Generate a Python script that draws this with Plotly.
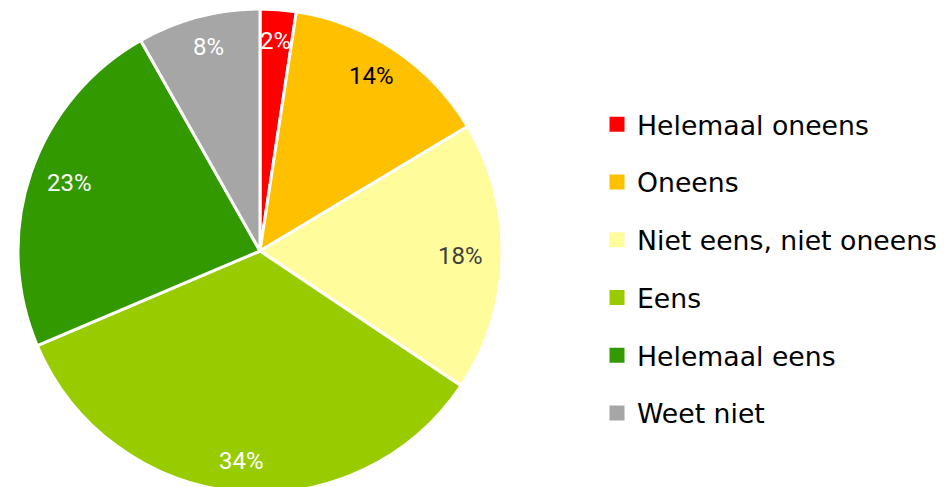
import math
import plotly.graph_objects as go

categories = ["Helemaal oneens", "Oneens", "Niet eens, niet oneens", "Eens", "Helemaal eens", "Weet niet"]
values = [2.4, 14.0, 18.0, 34.2, 23.2, 8.2]
colors = ["#FF0000", "#FFC000", "#FFFC9C", "#99CC00", "#339900", "#A6A6A6"]
label_colors = ["#FFFFFF", "#000000", "#404040", "#FFFFFF", "#FFFFFF", "#FFFFFF"]

W, H = 944, 496
cx, cy, R = 260, 251, 242  # pie centre / radius in px

fig = go.Figure()
fig.add_trace(go.Pie(
    labels=categories, values=values, sort=False, direction="clockwise", rotation=0,
    marker=dict(colors=colors, line=dict(color="white", width=3)),
    textinfo="none", hoverinfo="label+percent", showlegend=False,
    domain=dict(x=[(cx - R) / W, (cx + R) / W], y=[1 - (cy + R) / H, 1 - (cy - R) / H]),
))

# legend entries
for cat, col in zip(categories, colors):
    fig.add_trace(go.Scatter(x=[None], y=[None], mode="markers", name=cat, legendgroup=cat,
                             marker=dict(symbol="square", size=15, color=col), showlegend=True))

# percentage labels
total = sum(values)
cum = 0
annotations = []
for v, tc in zip(values, label_colors):
    mid = (cum + v / 2) / total * 2 * math.pi
    cum += v
    px = cx + 0.83 * R * math.sin(mid)
    py = cy - 0.87 * R * math.cos(mid)
    annotations.append(dict(x=px / W, y=1 - py / H, xref="paper", yref="paper",
                            xanchor="center", yanchor="middle",
                            text=f"{round(v / total * 100)}%", showarrow=False,
                            font=dict(family="Roboto", size=24, color=tc)))

fig.update_layout(
    width=W, height=H, margin=dict(l=0, r=0, t=0, b=0),
    paper_bgcolor="white", plot_bgcolor="white",
    xaxis=dict(visible=False), yaxis=dict(visible=False),
    annotations=annotations,
    legend=dict(x=597 / W, xanchor="left", y=1 - 269 / H, yanchor="middle",
                font=dict(family="DejaVu Sans", size=26.7, color="#000000"),
                tracegroupgap=20, itemclick=False),
)

fig.write_html("out.html", config={"displayModeBar": False},
               post_script="document.body.style.margin='0';document.body.style.overflow='hidden';document.documentElement.style.overflow='hidden';")
